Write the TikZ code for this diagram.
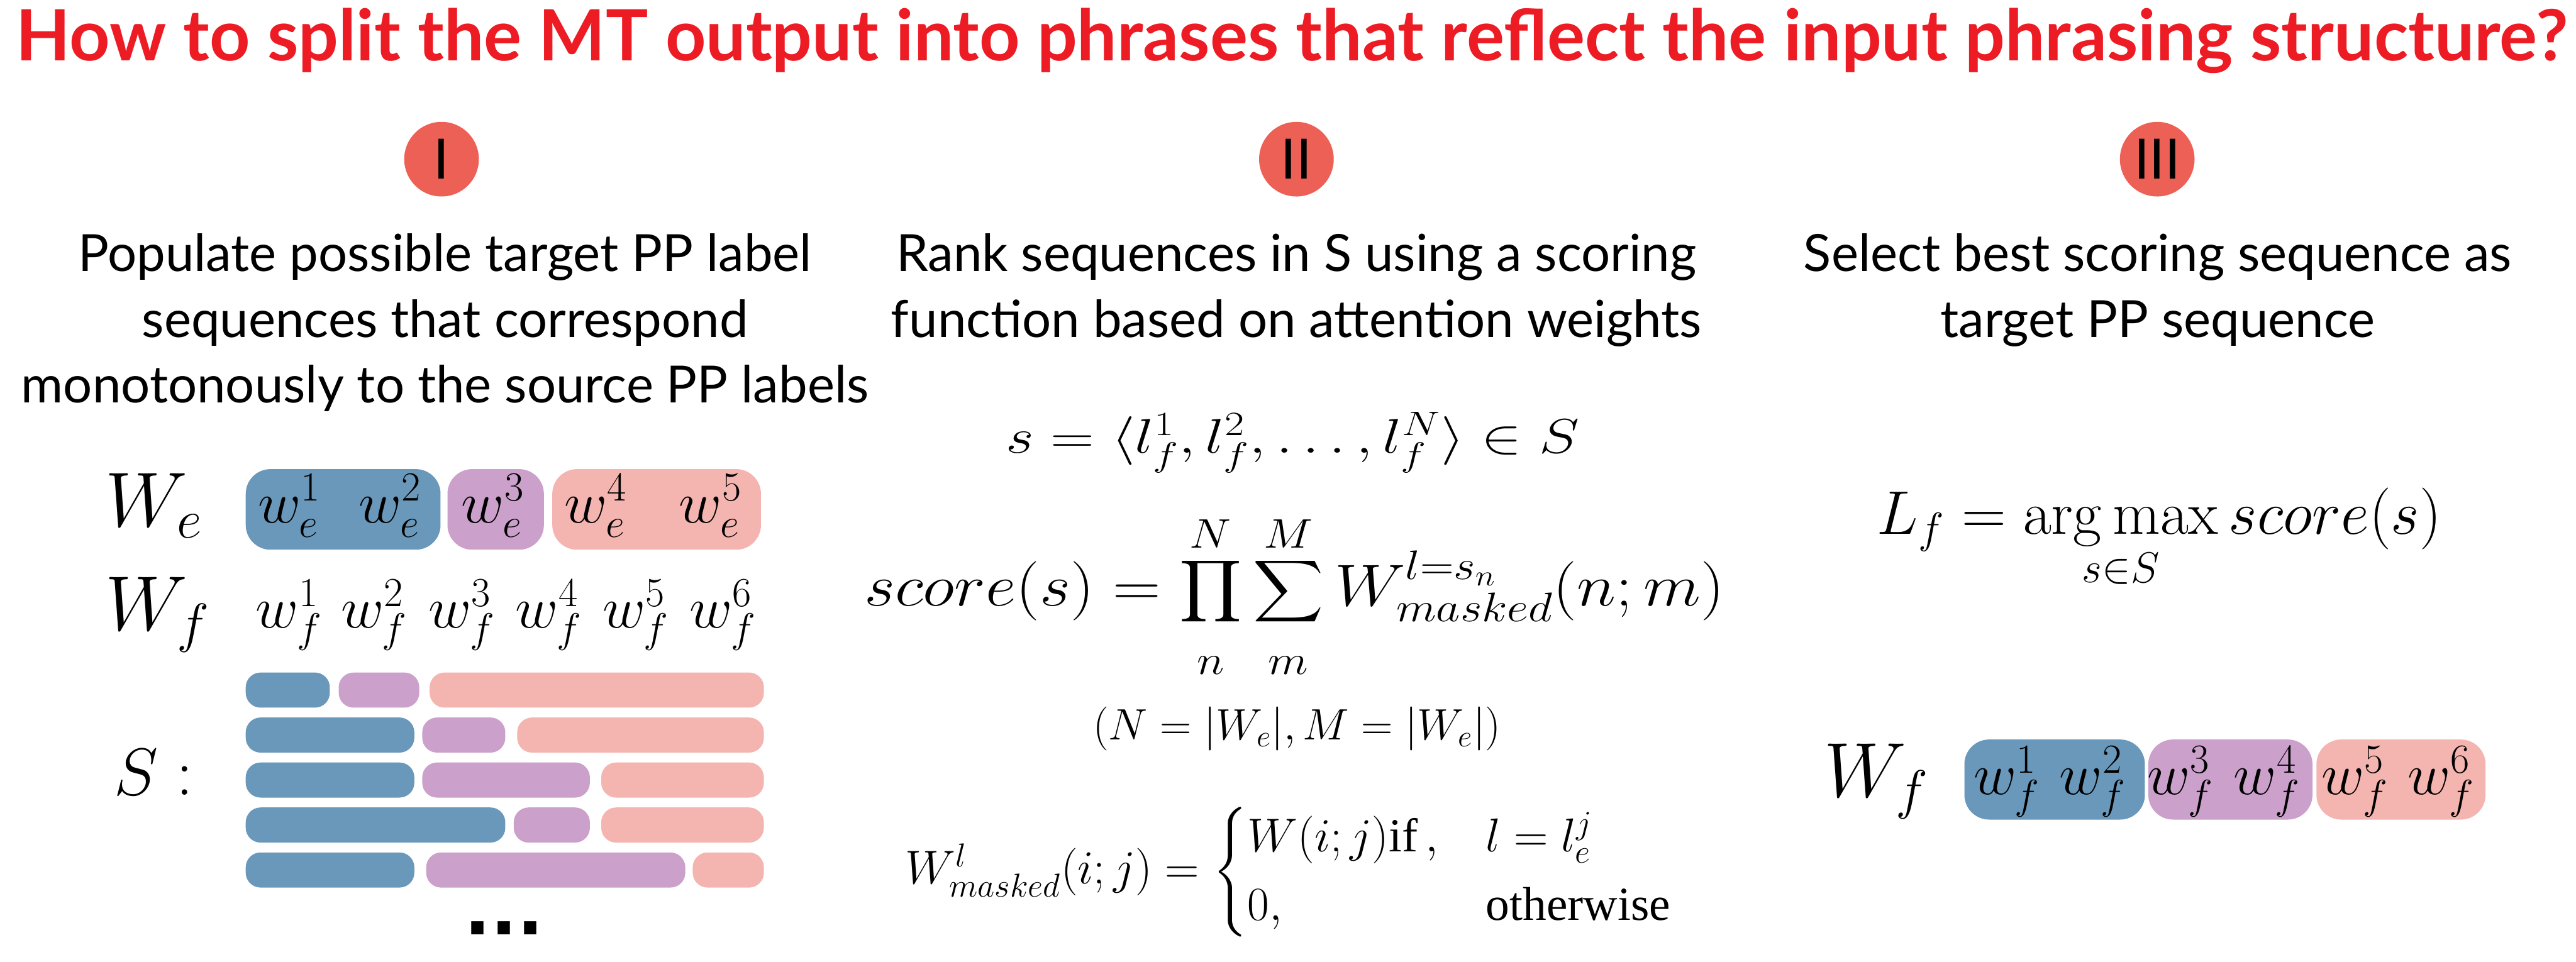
\RequirePackage{fix-cm}
\documentclass[tikz,border=0pt]{standalone}
\usepackage{amsmath}
\usepackage{graphicx}
\usepackage[no-math]{fontspec}
\setmainfont{Lato}
\newfontfamily\tnrfont{Liberation Serif}
\newfontfamily\dotfont{DejaVu Sans}
\usepackage{tikz}
\usetikzlibrary{positioning}
\definecolor{titlered}{RGB}{237,28,36}
\definecolor{circred}{RGB}{237,96,85}
\definecolor{ppblue}{RGB}{106,152,186}
\definecolor{pppurple}{RGB}{203,160,203}
\definecolor{pppink}{RGB}{244,180,176}

\begin{document}
\begin{tikzpicture}[x=1cm, y=-1cm,
    steptext/.style={font=\fontsize{29.5}{35}\selectfont, anchor=base, inner sep=0pt},
    stepnum/.style={circle, fill=circred, minimum size=1.51cm, inner sep=0pt, font=\fontsize{32}{38}\selectfont},
    biglabel/.style={font=\fontsize{44.7}{52}\selectfont, anchor=base west, inner sep=0pt},
    wordtext/.style={font=\fontsize{34}{40}\selectfont, anchor=base, inner sep=0pt},
    eqtext/.style={anchor=base, inner sep=0pt}]
  \useasboundingbox (0,0) rectangle (52.10,19.45);
  % question on top
  \node[font=\fontsize{40.7}{48}\selectfont\bfseries, text=titlered, anchor=base, inner sep=0pt] (title) at (26.13,1.23)
    {How to split the MT output into phrases that reflect the input phrasing structure?};
  % the three steps
  \node[stepnum] (numI) at (8.93,3.22) {I};
  \node[stepnum] (numII) at (26.22,3.22) {II};
  \node[stepnum] (numIII) at (43.63,3.22) {III};
  \node[steptext] (txtIa) at (9.00,5.49) {Populate possible target PP label};
  \node[steptext] (txtIb) at (9.00,6.83) {sequences that correspond};
  \node[steptext] (txtIc) at (9.00,8.15) {monotonously to the source PP labels};
  \node[steptext] (txtIIa) at (26.22,5.49) {Rank sequences in S using a scoring};
  \node[steptext] (txtIIb) at (26.22,6.83) {function based on attention weights};
  \node[steptext] (txtIIIa) at (43.64,5.49) {Select best scoring sequence as};
  \node[steptext] (txtIIIb) at (43.64,6.83) {target PP sequence};

  % step I: source phrases, target words, candidate sequences
  \node[biglabel] (We) at (2.12,10.65) {$W_e$};
  \node[biglabel] (Wf) at (2.12,12.75) {$W_f$};
  \fill[ppblue, rounded corners=0.5cm] (4.97,9.49) rectangle (8.91,11.12);
  \fill[pppurple, rounded corners=0.5cm] (9.05,9.49) rectangle (11.00,11.12);
  \fill[pppink, rounded corners=0.5cm] (11.17,9.49) rectangle (15.39,11.12);
  \foreach \x/\i in {5.85/1, 7.89/2, 9.97/3, 12.05/4, 14.37/5}
    \node[wordtext] (we\i) at (\x,10.57) {$w_e^{\i}$};
  \foreach \x/\i in {5.85/1, 7.57/2, 9.34/3, 11.10/4, 12.86/5, 14.62/6}
    \node[wordtext] (wf\i) at (\x,12.70) {$w_f^{\i}$};
  % candidate label sequences S (blue / purple / pink spans)
  \foreach \y/\a/\b/\c/\d/\e in {13.96/6.67/6.85/8.48/8.69, 14.87/8.38/8.54/10.22/10.46,
      15.78/8.38/8.54/11.93/12.16, 16.69/10.22/10.39/11.93/12.16, 17.60/8.38/8.62/13.86/14.01} {
    \fill[ppblue, rounded corners=0.3cm] (4.97,\y-0.355) rectangle (\a,\y+0.355);
    \fill[pppurple, rounded corners=0.3cm] (\b,\y-0.355) rectangle (\c,\y+0.355);
    \fill[pppink, rounded corners=0.3cm] (\d,\y-0.355) rectangle (15.45,\y+0.355);
  }
  \node[biglabel, font=\fontsize{38.4}{46}\selectfont] (Slab) at (2.30,16.08) {$S:$};
  \node[font=\dotfont\bfseries\fontsize{40}{46}\selectfont, inner sep=0pt] (more) at (10.20,18.77) {...};

  % step II: scoring (the first two formulas are stretched sideways)
  \node[eqtext, font=\fontsize{28}{34}\selectfont] (sdef) at (26.14,9.17)
    {\scalebox{1.25}[1]{$s = \langle l_f^1, l_f^2, \ldots, l_f^N \rangle \in S$}};
  \node[eqtext, font=\fontsize{34}{40}\selectfont] (score) at (26.18,12.26)
    {\scalebox{1.13}[1]{$\displaystyle score(s) = \prod_{n\rule{0pt}{0.7em}}^{N}\sum_{m\rule{0pt}{0.7em}}^{M} W_{masked}^{l=s_n}(n;m)$}};
  \node[eqtext, font=\fontsize{25.3}{30}\selectfont] (sizes) at (26.23,14.97)
    {$(N = |W_e|, M = |W_e|)$};
  \node[eqtext, font=\fontsize{27.3}{33}\selectfont] (mask) at (26.07,17.88)
    {$W_{masked}^{l}(i;j) = \begin{cases} W(i;j)\text{\tnrfont if}\,, & l = l_e^j\\ 0, & \text{\tnrfont otherwise}\end{cases}$};

  % step III: best sequence
  \node[eqtext, font=\fontsize{35.5}{42}\selectfont] (best) at (43.67,10.80)
    {$\displaystyle L_f = \operatorname*{arg\,max}_{s\in S} score(s)$};
  \node[biglabel] (Wfr) at (36.88,16.12) {$W_f$};
  \fill[ppblue, rounded corners=0.5cm] (39.73,14.96) rectangle (43.38,16.58);
  \fill[pppurple, rounded corners=0.5cm] (43.45,14.96) rectangle (46.77,16.58);
  \fill[pppink, rounded corners=0.5cm] (46.85,14.96) rectangle (50.27,16.58);
  \foreach \x/\i in {40.59/1, 42.33/2, 44.10/3, 45.85/4, 47.63/5, 49.37/6}
    \node[wordtext] (wfr\i) at (\x,16.07) {$w_f^{\i}$};
\end{tikzpicture}
\end{document}
